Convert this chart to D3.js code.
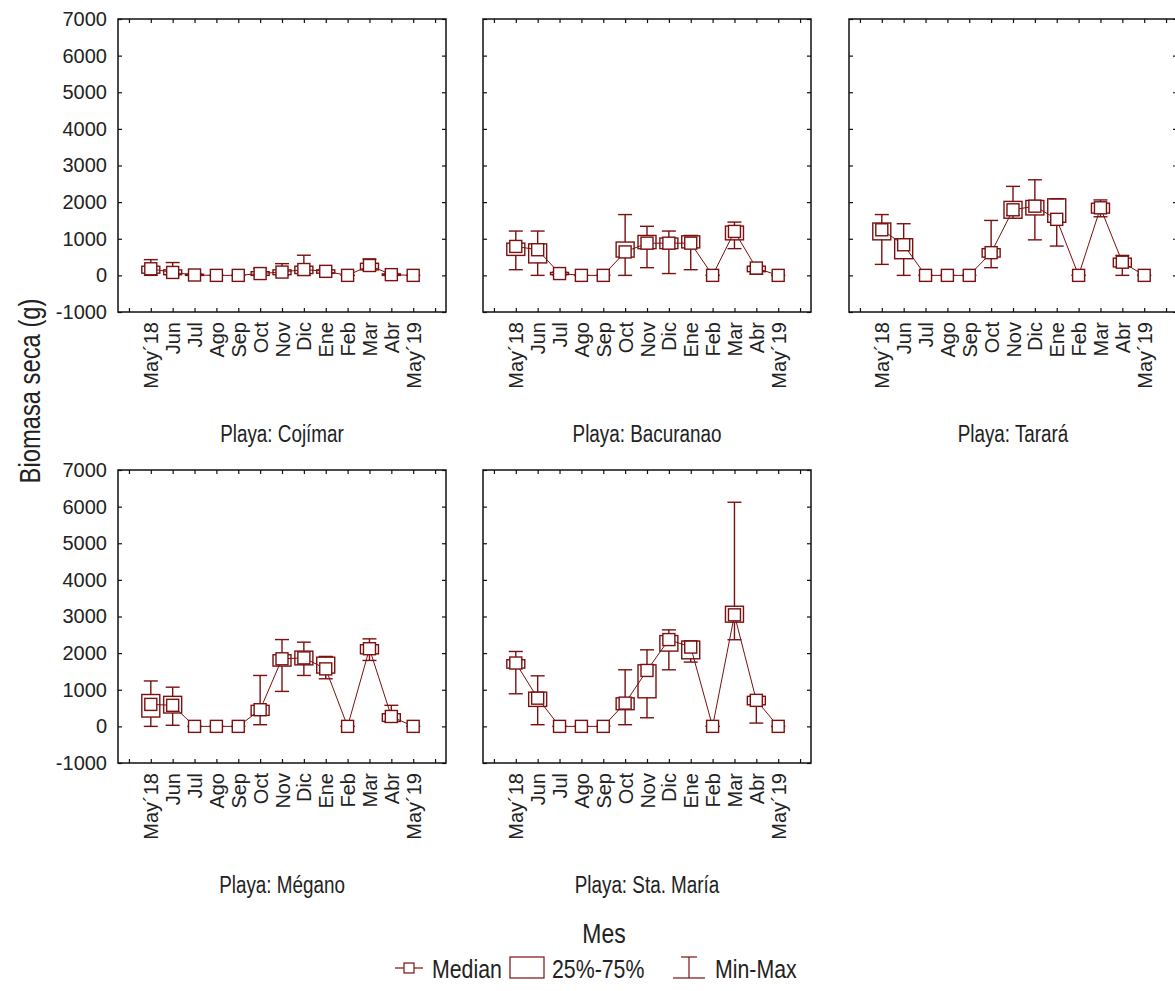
<!DOCTYPE html>
<html>
<head>
<meta charset="utf-8">
<script src="https://cdn.jsdelivr.net/npm/d3@7"></script>
<style>
  body { margin: 0; background: #fff; }
  text { font-family: "Liberation Sans", Arial, sans-serif; fill: #222; }
</style>
</head>
<body>
<div id="chart"></div>
<script>
// Data
const months = ['May´18', 'Jun', 'Jul', 'Ago', 'Sep', 'Oct', 'Nov', 'Dic', 'Ene', 'Feb', 'Mar', 'Abr', 'May´19']
const beaches = ['Playa: Cojímar', 'Playa: Bacuranao', 'Playa: Tarará', 'Playa: Mégano', 'Playa: Sta.  María']
const yTicks = [-1000, 0, 1000, 2000, 3000, 4000, 5000, 6000, 7000]

// one row per beach, one value per month
const medianVals = [
    [180, 80, 10, 0, 0, 50, 90, 160, 110, 0, 270, 20, 0],
    [790, 700, 50, 0, 0, 640, 880, 880, 880, 0, 1200, 200, 0],
    [1245, 836, 0, 0, 0, 620, 1790, 1890, 1530, 0, 1845, 360, 0],
    [600, 575, 0, 0, 0, 455, 1845, 1870, 1570, 0, 2120, 270, 0],
    [1730, 770, 0, 0, 0, 635, 1527, 2370, 2165, 0, 3045, 710, 0]
]
const q1Vals = [
    [60, 20, 0, 0, 0, 0, 20, 50, 60, 0, 150, 0, 0],
    [545, 340, 20, 0, 0, 500, 730, 730, 750, 0, 970, 100, 0],
    [970, 455, 0, 0, 0, 500, 1560, 1650, 1450, 0, 1700, 230, 0],
    [255, 365, 0, 0, 0, 300, 1645, 1680, 1455, 0, 1980, 135, 0],
    [1590, 545, 0, 0, 0, 455, 780, 2055, 1845, 0, 2845, 590, 0]
]
const q3Vals = [
    [250, 150, 30, 0, 0, 100, 150, 250, 150, 0, 330, 40, 0],
    [880, 860, 80, 0, 0, 910, 1090, 1020, 1080, 0, 1345, 250, 0],
    [1430, 1000, 0, 0, 0, 730, 2020, 2045, 2090, 0, 1970, 470, 0],
    [870, 820, 0, 0, 0, 575, 1955, 2055, 1890, 0, 2230, 345, 0],
    [1820, 935, 0, 0, 0, 780, 1680, 2480, 2330, 0, 3280, 820, 0]
]
const minVals = [
    [0, 0, 0, 0, 0, 0, 0, 0, 50, 0, 130, 0, 0],
    [155, 0, 0, 0, 0, 0, 210, 50, 155, 0, 730, 30, 0],
    [300, 0, 0, 0, 0, 210, 1640, 970, 800, 0, 1600, 0, 0],
    [0, 30, 0, 0, 0, 45, 955, 1390, 1300, 0, 1800, 120, 0],
    [890, 45, 0, 0, 0, 45, 235, 1545, 1755, 0, 2365, 90, 0]
]
const maxVals = [
    [430, 350, 50, 0, 0, 190, 320, 550, 160, 0, 450, 60, 0],
    [1210, 1210, 100, 0, 0, 1660, 1340, 1210, 1090, 0, 1455, 260, 0],
    [1660, 1410, 0, 0, 0, 1500, 2430, 2610, 2090, 0, 2060, 545, 0],
    [1240, 1070, 0, 0, 0, 1390, 2370, 2300, 1910, 0, 2390, 575, 0],
    [2045, 1380, 0, 0, 0, 1545, 2090, 2635, 2330, 0, 6120, 820, 0]
]

const red = '#7a1010'

// Dimension
const dimension = {
    width: 1175,
    height: 991,
    panelW: 328,
    panelH: 293,
    colX: [118, 483, 849],
    rowY: [19, 470]
}

const svg = d3.select('#chart')
    .append('svg')
    .attr('width', dimension.width)
    .attr('height', dimension.height)

// Scales
const xScale = d3.scaleLinear()
    .domain([-1.5, 13.5])
    .range([0, dimension.panelW])

const yScale = d3.scaleLinear()
    .domain([-1000, 7000])
    .range([dimension.panelH, 0])

const xTickVals = d3.range(-1, 14)

beaches.forEach((name, b) => {
    const col = b % 3
    const row = Math.floor(b / 3)
    const ctr = svg.append('g')
        .attr('transform', `translate(${dimension.colX[col]}, ${dimension.rowY[row]})`)

    const rows = months.map((m, i) => ({
        i,
        med: medianVals[b][i],
        q1: q1Vals[b][i],
        q3: q3Vals[b][i],
        min: minVals[b][i],
        max: maxVals[b][i]
    }))

    // Axes (ticks point inward)
    const yAxis = d3.axisLeft(yScale)
        .tickValues(yTicks)
        .tickSize(-4)
        .tickPadding(11)
        .tickFormat(d => col === 0 ? String(d) : '')
    const yAxisGroup = ctr.append('g').call(yAxis)
    yAxisGroup.selectAll('text').style('font-size', '20px')

    ctr.append('g')
        .attr('transform', `translate(${dimension.panelW}, 0)`)
        .call(d3.axisRight(yScale).tickValues(yTicks).tickSize(-4).tickFormat(() => ''))

    ctr.append('g')
        .call(d3.axisTop(xScale).tickValues(xTickVals).tickSize(-4).tickFormat(() => ''))

    const xAxis = d3.axisBottom(xScale)
        .tickValues(xTickVals)
        .tickSize(-4)
        .tickFormat(d => months[d] || '')
    const xAxisGroup = ctr.append('g')
        .attr('transform', `translate(0, ${dimension.panelH})`)
        .call(xAxis)
    xAxisGroup.selectAll('text')
        .attr('transform', 'rotate(-90)')
        .attr('x', -10)
        .attr('y', 0)
        .attr('dy', '0.35em')
        .style('text-anchor', 'end')
        .style('font-size', '20px')

    ctr.selectAll('.domain').remove()
    ctr.selectAll('.tick line').attr('stroke', '#111').attr('stroke-width', 1.2)

    // Frame
    ctr.append('rect')
        .attr('width', dimension.panelW)
        .attr('height', dimension.panelH)
        .attr('fill', 'none')
        .attr('stroke', '#111')
        .attr('stroke-width', 1.5)

    // Boxes
    ctr.selectAll('rect.box')
        .data(rows)
        .join('rect')
        .attr('class', 'box')
        .attr('x', d => xScale(d.i) - 9)
        .attr('width', 18)
        .attr('y', d => yScale(d.q3))
        .attr('height', d => yScale(d.q1) - yScale(d.q3))
        .attr('fill', 'none')
        .attr('stroke', red)
        .attr('stroke-width', 1.4)

    // Whiskers
    const whisk = ctr.selectAll('g.whisk')
        .data(rows)
        .join('g')
        .attr('class', 'whisk')
        .attr('stroke', red)
        .attr('stroke-width', 1.4)
    whisk.append('line')
        .attr('x1', d => xScale(d.i)).attr('x2', d => xScale(d.i))
        .attr('y1', d => yScale(d.max)).attr('y2', d => yScale(d.q3))
    whisk.append('line')
        .attr('x1', d => xScale(d.i)).attr('x2', d => xScale(d.i))
        .attr('y1', d => yScale(d.q1)).attr('y2', d => yScale(d.min))
    whisk.append('line')
        .attr('x1', d => xScale(d.i) - 7).attr('x2', d => xScale(d.i) + 7)
        .attr('y1', d => yScale(d.max)).attr('y2', d => yScale(d.max))
    whisk.append('line')
        .attr('x1', d => xScale(d.i) - 7).attr('x2', d => xScale(d.i) + 7)
        .attr('y1', d => yScale(d.min)).attr('y2', d => yScale(d.min))

    // Median line
    const line = d3.line()
        .x(d => xScale(d.i))
        .y(d => yScale(d.med))
    ctr.append('path')
        .datum(rows)
        .attr('d', line)
        .attr('fill', 'none')
        .attr('stroke', red)
        .attr('stroke-width', 1)

    // Median squares
    ctr.selectAll('rect.med')
        .data(rows)
        .join('rect')
        .attr('class', 'med')
        .attr('x', d => xScale(d.i) - 6)
        .attr('y', d => yScale(d.med) - 6)
        .attr('width', 12)
        .attr('height', 12)
        .attr('fill', '#fff')
        .attr('stroke', red)
        .attr('stroke-width', 1.4)

    // Panel title (narrow face)
    ctr.append('g')
        .attr('transform', `translate(${dimension.panelW / 2}, ${dimension.panelH + 130}) scale(0.82, 1)`)
        .append('text')
        .attr('text-anchor', 'middle')
        .style('font-size', '23px')
        .text(name)
})

// Y axis title
svg.append('g')
    .attr('transform', 'translate(40, 391) rotate(-90) scale(0.82, 1)')
    .append('text')
    .attr('text-anchor', 'middle')
    .style('font-size', '29px')
    .text('Biomasa seca (g)')

// X axis title
svg.append('g')
    .attr('transform', 'translate(604, 943) scale(0.82, 1)')
    .append('text')
    .attr('text-anchor', 'middle')
    .style('font-size', '28px')
    .text('Mes')

// Legend
const legend = svg.append('g').attr('transform', 'translate(0, 968)')
// median symbol
legend.append('line').attr('x1', 395).attr('x2', 423).attr('y1', 0).attr('y2', 0)
    .attr('stroke', red).attr('stroke-width', 1.2)
legend.append('rect').attr('x', 404).attr('y', -5).attr('width', 10).attr('height', 10)
    .attr('fill', '#fff').attr('stroke', red).attr('stroke-width', 1.2)
// box symbol
legend.append('rect').attr('x', 510).attr('y', -11).attr('width', 34).attr('height', 21)
    .attr('fill', 'none').attr('stroke', red).attr('stroke-width', 1.2)
// whisker symbol
const wg = legend.append('g').attr('stroke', red).attr('stroke-width', 1.2)
wg.append('line').attr('x1', 681).attr('x2', 697).attr('y1', -11).attr('y2', -11)
wg.append('line').attr('x1', 689).attr('x2', 689).attr('y1', -11).attr('y2', 10)
wg.append('line').attr('x1', 673).attr('x2', 705).attr('y1', 10).attr('y2', 10)

const legendText = [['Median', 432], ['25%-75%', 552], ['Min-Max', 715]]
legendText.forEach(([t, x]) => {
    legend.append('g')
        .attr('transform', `translate(${x}, 10) scale(0.82, 1)`)
        .append('text')
        .style('font-size', '26px')
        .text(t)
})
</script>
</body>
</html>
